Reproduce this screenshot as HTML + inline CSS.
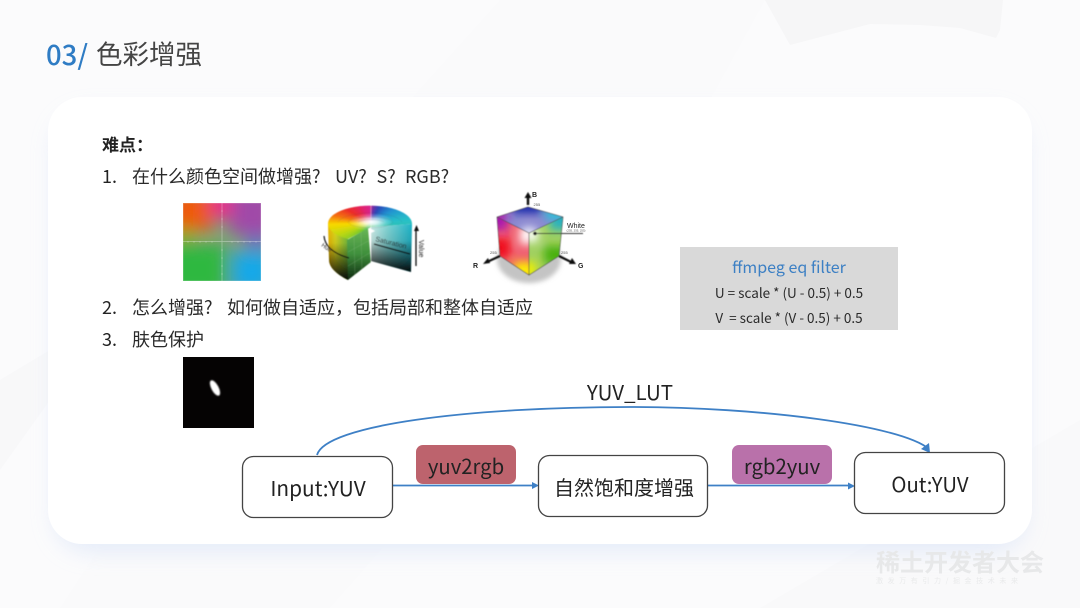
<!DOCTYPE html>
<html lang="zh-CN"><head><meta charset="utf-8">
<style>
html,body{margin:0;padding:0;background:#fafbfc}
svg{display:block}
text{font-family:"Noto Sans CJK SC","Liberation Sans",sans-serif}
.l{font-family:"Liberation Sans",sans-serif}
</style></head><body>
<svg xmlns="http://www.w3.org/2000/svg" width="1080" height="608" viewBox="0 0 1080 608">
<defs>
<filter id="b05" x="-10%" y="-10%" width="120%" height="120%"><feGaussianBlur stdDeviation=".45"/></filter>
<filter id="b08" x="-60%" y="-60%" width="220%" height="220%"><feGaussianBlur stdDeviation=".9"/></filter>
<filter id="b4" x="-60%" y="-60%" width="220%" height="220%"><feGaussianBlur stdDeviation="4.500"/></filter>
<filter id="b8" x="-50%" y="-50%" width="200%" height="200%"><feGaussianBlur stdDeviation="8"/></filter>
<filter id="b12" x="-30%" y="-30%" width="160%" height="160%"><feGaussianBlur stdDeviation="11"/></filter>
<filter id="b3" x="-60%" y="-60%" width="220%" height="220%"><feGaussianBlur stdDeviation="2.500"/></filter>
<clipPath id="uv"><rect x="183" y="203" width="78" height="78"/></clipPath>
<clipPath id="cyltop"><path d="M371 227L348 239A42 18 0 1 1 412 224Z"/></clipPath>
<clipPath id="ct"><polygon points="497,217 528,207 563,217 529,233"/></clipPath>
<clipPath id="cl"><polygon points="497,217 529,233 529,275 500,256"/></clipPath>
<clipPath id="cr"><polygon points="529,233 563,217 559,256 529,275"/></clipPath>
<linearGradient id="leftside" x1="0" y1="0" x2="1" y2="0"><stop offset="0" stop-color="#f0b800"/><stop offset=".35" stop-color="#e0dc20"/><stop offset="1" stop-color="#70c040"/></linearGradient>
<linearGradient id="dark" x1="0" y1="0" x2="0" y2="1"><stop offset="0" stop-color="#000" stop-opacity="0"/><stop offset=".35" stop-color="#000" stop-opacity=".1"/><stop offset="1" stop-color="#000" stop-opacity=".95"/></linearGradient>
<linearGradient id="cyan" x1="0" y1="0" x2="1" y2="0"><stop offset="0" stop-color="#cfeeea"/><stop offset=".4" stop-color="#80d4d4"/><stop offset="1" stop-color="#1fb4c8"/></linearGradient>
<linearGradient id="green" x1="0" y1="0" x2="0" y2="1"><stop offset="0" stop-color="#69b657"/><stop offset=".5" stop-color="#3f8f3c"/><stop offset="1" stop-color="#0f2a10"/></linearGradient>
</defs>

<!-- background -->
<rect width="1080" height="608" fill="#fbfbfc"/>
<polygon points="765,0 1003,0 1000,30 996,38 960,28 920,25 870,24 790,45" fill="#f6f6f7"/>
<polygon points="60,608 170,440 410,100 500,0 765,0 600,300 330,608" fill="#fafafb"/>
<polygon points="760,608 1080,420 1080,608" fill="#f9f9fa"/>
<path d="M0 470 L50 400 L50 350 L0 380 Z" fill="#f8f8f9"/>

<!-- card -->
<rect x="54" y="112" width="972" height="440" rx="36" fill="#dbe5f8" opacity=".7" filter="url(#b12)"/>
<rect x="48" y="97" width="984" height="447" rx="34" fill="#fff"/>

<!-- title -->
<text x="46" y="65" font-size="27.500" font-weight="500" fill="#2f7cc4">03/</text>
<text x="96" y="64" font-size="26.500" fill="#444">色彩增强</text>

<!-- list -->
<text x="102" y="151" font-size="17" font-weight="700" fill="#222">难点&#xFF1A;</text>
<text x="102" y="183" font-size="18" fill="#222">1.</text>
<text x="132" y="183" font-size="18" fill="#2a2a2a">在什么颜色空间做增强?</text>
<text x="335" y="183" font-size="18" fill="#2a2a2a">UV?</text>
<text x="376.500" y="183" font-size="18" fill="#2a2a2a">S?</text>
<text x="405" y="183" font-size="18" fill="#2a2a2a">RGB?</text>
<text x="102" y="314" font-size="18" fill="#222">2.</text>
<text x="132" y="314" font-size="18" fill="#2a2a2a">怎么增强?</text>
<text x="227" y="314" font-size="18" fill="#2a2a2a">如何做自适应&#xFF0C;包括局部和整体自适应</text>
<text x="102" y="346" font-size="18" fill="#222">3.</text>
<text x="132" y="346" font-size="18" fill="#2a2a2a">肤色保护</text>

<!-- UV plane -->
<g clip-path="url(#uv)">
  <rect x="183" y="203" width="78" height="78" fill="#7f9f78"/>
  <g filter="url(#b8)">
    <rect x="170" y="190" width="44" height="40" fill="#ee5a10"/>
    <rect x="230" y="190" width="44" height="44" fill="#a04aa8"/>
    <rect x="165" y="245" width="60" height="50" fill="#2fb840"/>
    <rect x="232" y="252" width="40" height="40" fill="#12a8e8"/>
    <rect x="210" y="192" width="22" height="26" fill="#ea2a88"/>
    <rect x="172" y="228" width="22" height="14" fill="#8cab20"/>
    <rect x="246" y="234" width="20" height="16" fill="#5f70c4"/>
  </g>
  <path d="M183 241.500H261M222 203V281" stroke="#fff" stroke-opacity=".4" stroke-width=".7"/>
  <path d="M188 241V243M194 241V243M200 241V243M206 241V243M212 241V243M232 241V243M238 241V243M244 241V243M250 241V243M256 241V243M221 211H223M221 219H223M221 227H223M221 250H223M221 258H223M221 266H223M221 274H223" stroke="#fff" stroke-opacity=".4" stroke-width=".5"/>
</g>
<rect x="183" y="203" width="78" height="78" fill="none" stroke="#fff" stroke-opacity=".3"/>

<!-- HSV cylinder -->
<g filter="url(#b05)">
  <path d="M328 223L329 260C329 267 336 274 348 280L349 240Z" fill="url(#leftside)"/>
  <path d="M328 223L329 260C329 267 336 274 348 280L349 240Z" fill="url(#dark)"/>
  <path d="M371 227L412 224L411 272L371 261Z" fill="url(#cyan)"/>
  <path d="M371 227L412 224L411 272L371 261Z" fill="url(#dark)"/>
  <polygon points="347,240 368,228 371,262 348,280" fill="url(#green)"/>
  <path d="M354 237L355 276M361 232L362 270M348 252L370 240M348 266L371 252" stroke="#a8d0a0" stroke-opacity=".4" stroke-width=".4" fill="none"/>
  <foreignObject x="320" y="200" width="100" height="46" clip-path="url(#cyltop)">
    <div xmlns="http://www.w3.org/1999/xhtml" style="position:absolute;left:0;top:0;width:100px;height:46px;background:conic-gradient(from 0deg at 50px 23px,#d8208c 0deg,#6a30a8 12deg,#2a48b8 30deg,#2090d0 60deg,#28c0c8 85deg,#40c080 130deg,#50c040 215deg,#c0d810 250deg,#f8d800 268deg,#f47010 282deg,#ec2c28 300deg,#e02070 335deg,#d8208c 360deg)"></div>
    <div xmlns="http://www.w3.org/1999/xhtml" style="position:absolute;left:0;top:0;width:100px;height:46px;background:radial-gradient(ellipse 22px 9px at 51px 22px,#fff 0,rgba(255,255,255,.8) 30%,rgba(255,255,255,.25) 70%,rgba(255,255,255,0) 100%)"></div>
  </foreignObject>
  <path d="M348 222C352 215 388 215 393 222C388 230 352 230 348 222ZM338 222C345 210 395 210 402 222M358 222C362 219 380 219 384 222" fill="none" stroke="#555" stroke-opacity=".3" stroke-width=".4"/>
  <path d="M371 205V262" stroke="#fff" stroke-width=".6" opacity=".55"/>
  <polygon points="371,229 375,231 371,233" fill="#fff"/>
  <path d="M374 244L410 254" stroke="#111" stroke-width="1.300"/>
  <text transform="translate(375 241) rotate(14)" font-size="7" fill="#222" class="l">Saturation</text>
  <path d="M416 228V266" stroke="#111" stroke-width="1.300"/>
  <polygon points="416.500,225 419,231 414,231" fill="#111"/>
  <text transform="translate(419 240) rotate(90)" font-size="7" fill="#222" class="l">Value</text>
  <path d="M324 236C325 247 335 254 349 258" fill="none" stroke="#111" stroke-width="1.200"/>
  <text transform="translate(321 246) rotate(35)" font-size="6" fill="#333" class="l">Hue</text>
</g>

<!-- RGB cube -->
<ellipse cx="529" cy="259" rx="32" ry="24" fill="#c4c4c4" filter="url(#b3)"/>
<g filter="url(#b05)">
  <g clip-path="url(#ct)">
    <rect x="490" y="200" width="80" height="40" fill="#8a88d0"/>
    <g filter="url(#b4)">
      <rect x="512" y="200" width="30" height="13" fill="#1428a8"/>
      <rect x="546" y="208" width="24" height="12" fill="#28c4d8"/>
      <rect x="486" y="210" width="20" height="14" fill="#b018a8"/>
      <rect x="522" y="228" width="14" height="10" fill="#fff"/>
    </g>
  </g>
  <g clip-path="url(#cl)">
    <rect x="490" y="212" width="44" height="66" fill="#f06070"/>
    <g filter="url(#b4)">
      <rect x="486" y="208" width="22" height="22" fill="#a818b0"/>
      <rect x="490" y="238" width="20" height="20" fill="#f00c1c"/>
      <rect x="514" y="262" width="20" height="18" fill="#fcf000"/>
      <rect x="520" y="226" width="14" height="18" fill="#fff"/>
    </g>
  </g>
  <g clip-path="url(#cr)">
    <rect x="526" y="215" width="40" height="62" fill="#a0d060"/>
    <g filter="url(#b4)">
      <rect x="550" y="210" width="20" height="20" fill="#28b0c0"/>
      <rect x="544" y="246" width="24" height="18" fill="#48b010"/>
      <rect x="522" y="262" width="14" height="16" fill="#f0f000"/>
      <rect x="524" y="228" width="14" height="14" fill="#fff"/>
    </g>
  </g>
  <path d="M497 217L528 207L563 217L559 256L529 275L500 256ZM497 217L529 233L563 217M529 233V275" fill="none" stroke="#444" stroke-width=".6"/>
  <path d="M528 205V197" stroke="#111" stroke-width="2.400"/>
  <polygon points="528,192 531.500,198 524.500,198" fill="#111"/>
  <path d="M500 256L487 262" stroke="#111" stroke-width="2.200"/>
  <polygon points="483,264 488,258 490,263" fill="#111"/>
  <path d="M559 256L571 262" stroke="#111" stroke-width="2.200"/>
  <polygon points="576,264 569,264 572,258" fill="#111"/>
  <path d="M533 233.500H583" stroke="#333" stroke-width=".9"/>
  <circle cx="535" cy="233.500" r="1.700" fill="#222"/>
</g>
<text x="532" y="197" font-size="7" font-weight="700" fill="#222" class="l">B</text>
<text x="533.500" y="206" font-size="4" fill="#555" class="l">255</text>
<text x="567" y="228" font-size="7" fill="#222" class="l">White</text>
<text x="566.500" y="231.500" font-size="2.800" fill="#555" class="l">(255, 255, 255)</text>
<text x="473" y="268" font-size="7" font-weight="700" fill="#222" class="l">R</text>
<text x="578" y="268" font-size="7" font-weight="700" fill="#222" class="l">G</text>
<text x="490" y="254" font-size="4" fill="#555" class="l">255</text>
<text x="561" y="254" font-size="4" fill="#555" class="l">255</text>

<!-- mask image -->
<rect x="183" y="357" width="71" height="71" fill="#050303"/>
<ellipse cx="215" cy="388" rx="3.600" ry="8.500" transform="rotate(-28 215 388)" fill="#fff" filter="url(#b08)"/>

<!-- ffmpeg box -->
<rect x="680" y="247" width="218" height="83" fill="#d9d9d9"/>
<text x="789" y="273" font-size="16" fill="#3d80c4" text-anchor="middle">ffmpeg eq filter</text>
<text x="789" y="298" font-size="13.500" fill="#2a2a2a" text-anchor="middle">U = scale * (U - 0.5) + 0.5</text>
<text x="789" y="323" font-size="13.500" fill="#2a2a2a" text-anchor="middle" xml:space="preserve">V  = scale * (V - 0.5) + 0.5</text>

<!-- flow -->
<text x="630" y="400" font-size="20.500" fill="#222" text-anchor="middle">YUV_LUT</text>
<path d="M317 455C325 425 470 407 630 407C760 407 900 425 929 449" fill="none" stroke="#3e80c6" stroke-width="1.800"/>
<polygon points="930,453 921,449 929,443" fill="#3e80c6"/>

<rect x="416" y="445" width="100" height="39" rx="7" fill="#bd636d"/>
<rect x="732" y="445" width="100" height="39" rx="7" fill="#b971aa"/>

<path d="M393 485.500H532" stroke="#3e80c6" stroke-width="1.800"/>
<polygon points="539,485.500 532,482 532,489" fill="#3e80c6"/>
<path d="M708 485.500H848" stroke="#3e80c6" stroke-width="1.800"/>
<polygon points="855,486 848,482.500 848,489.500" fill="#3e80c6"/>

<text x="466" y="474" font-size="20.300" fill="#222" text-anchor="middle">yuv2rgb</text>
<text x="782" y="474" font-size="20.300" fill="#222" text-anchor="middle">rgb2yuv</text>

<rect x="242.500" y="456.500" width="150" height="61" rx="11" fill="#fff" stroke="#444" stroke-width="1.300"/>
<rect x="538.500" y="455.500" width="169" height="61" rx="11" fill="#fff" stroke="#444" stroke-width="1.300"/>
<rect x="854.500" y="452.500" width="150" height="61" rx="11" fill="#fff" stroke="#444" stroke-width="1.300"/>
<text x="318" y="496" font-size="20.800" fill="#222" text-anchor="middle">Input:YUV</text>
<text x="624" y="495" font-size="20" fill="#222" text-anchor="middle">自然饱和度增强</text>
<text x="930" y="492" font-size="20.300" fill="#222" text-anchor="middle">Out:YUV</text>

<!-- watermark -->
<text x="876" y="571" font-size="24" font-weight="700" fill="#e7e8e9">稀土开发者大会</text>
<text x="876" y="583" font-size="7" fill="#e9eaeb" letter-spacing="4.600">激发万有引力/掘金技术未来</text>
</svg>
</body></html>
